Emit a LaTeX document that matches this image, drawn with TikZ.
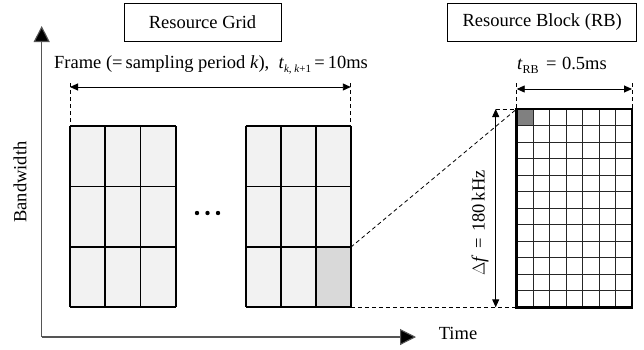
\documentclass[tikz,border=0pt]{standalone}
\usepackage{fontspec}
\setmainfont{Liberation Serif}
\usetikzlibrary{arrows.meta}
\definecolor{cellfill}{HTML}{F2F2F2}
\definecolor{cellhi}{HTML}{D9D9D9}
\definecolor{cellrb}{HTML}{808080}
\definecolor{axisgray}{HTML}{555555}
\begin{document}
\begin{tikzpicture}[x=1pt,y=-1pt,
  font=\fontsize{18.5}{22}\selectfont,
  titlebox/.style={draw, line width=0.9pt, inner sep=0pt},
  axisline/.style={draw=axisgray, line width=1.1pt, -{Triangle[length=16pt,width=16pt,fill=black]}},
  dimarrow/.style={line width=0.9pt, {Triangle[length=8pt,width=7pt]}-{Triangle[length=8pt,width=7pt]}},
  guide/.style={line width=0.8pt, dash pattern=on 4pt off 3pt},
  gridline/.style={line width=1.8pt},
  rbline/.style={line width=1pt, draw=black!85},
  rbframe/.style={line width=2.8pt}]
\useasboundingbox (0,0) rectangle (644,349);

% titles
\node[titlebox, minimum width=157pt, minimum height=38pt] (rg) at (202.5,22) {Resource Grid};
\node[titlebox, minimum width=189pt, minimum height=38pt] (rb) at (542.2,22) {Resource Block (RB)};

% axes
\coordinate (O) at (41.7,337);
\coordinate (Ytop) at (41.7,26);
\coordinate (Xend) at (416,337);
\draw[axisline] (O) -- (Ytop);
\draw[axisline] (O) -- (Xend);
\node[rotate=90] (bw) at (20,182) {Bandwidth};
\node (time) at (458,333) {Time};

% left block
\fill[cellfill] (70,126) rectangle (175.6,307.3);
\foreach \i in {0,1,2,3} {
  \draw[gridline] (70+35.2*\i,126) -- (70+35.2*\i,307.3);
  \draw[gridline] (70,126+60.43*\i) -- (175.6,126+60.43*\i);
}
% right block
\fill[cellfill] (245.6,126) rectangle (350.8,307.3);
\fill[cellhi] (315.7,247.2) rectangle (350.8,307.3);
\foreach \i in {0,1,2,3} {
  \draw[gridline] (245.6+35.07*\i,126) -- (245.6+35.07*\i,307.3);
  \draw[gridline] (245.6,126+60.43*\i) -- (350.8,126+60.43*\i);
}
\coordinate (hiTR) at (350.8,247.2);
\coordinate (hiBR) at (350.8,307.3);

% dots
\foreach \x in {197,207.5,218} \fill (\x,213) circle (2.2pt);

% frame dimension
\coordinate (fL) at (70,87);
\coordinate (fR) at (350.8,87);
\draw[guide] (70,83) -- (70,126);
\draw[guide] (350.8,83) -- (350.8,126);
\draw[dimarrow] (fL) -- (fR);
\node (frame) at (211,65) {Frame (=\,sampling period \textit{k}),\ \ \textit{t}\raisebox{-0.45ex}{\fontsize{11}{11}\selectfont\textit{k}, \textit{k}+1}\,=\,10ms};

% resource block
\coordinate (rbTL) at (516.7,109);
\coordinate (rbBL) at (516.7,307.3);
\coordinate (rbTR) at (632,109);
\fill[cellrb] (516.7,109) rectangle (516.7+16.47,109+16.53);
\foreach \i in {1,...,6} \draw[rbline] (516.7+16.47*\i,109) -- (516.7+16.47*\i,307.3);
\foreach \j in {1,...,11} \draw[rbline] (516.7,109+16.53*\j) -- (632,109+16.53*\j);
\draw[rbframe] (516.7,109) rectangle (632,307.3);

% t_RB dimension
\draw[guide] (516.7,83) -- (rbTL);
\draw[guide] (632,83) -- (rbTR);
\coordinate (tL) at (516.7,89);
\coordinate (tR) at (632,89);
\draw[dimarrow] (tL) -- (tR);
\node (trb) at (562,65) {\textit{t}\raisebox{-0.45ex}{\fontsize{12}{12}\selectfont RB}\hspace{0.4em}=\hspace{0.3em}0.5ms};

% delta f dimension
\coordinate (dT) at (495.7,109);
\coordinate (dB) at (495.7,307.3);
\draw[guide] (dT) -- (rbTL);
\draw[dimarrow] (dT) -- (dB);
\node[rotate=90] (df) at (480,223) {$\Delta$\textit{f}\hspace{0.35em}=\hspace{0.35em}180\,kHz};

% zoom guides
\draw[guide] (hiTR) -- (rbTL);
\draw[guide] (hiBR) -- (rbBL);
\end{tikzpicture}
\end{document}
